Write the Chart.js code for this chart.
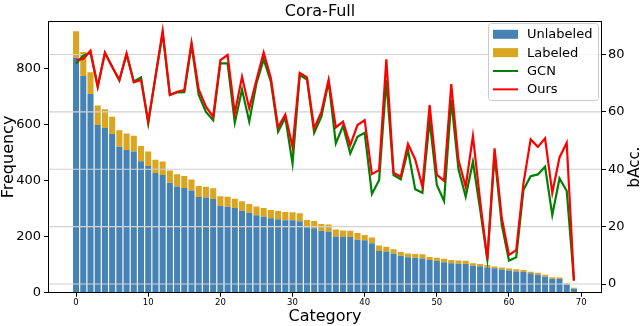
<!DOCTYPE html>
<html>
<head>
<meta charset="utf-8">
<script src="https://cdn.jsdelivr.net/npm/chart.js@4"></script>
<style>
  body { margin: 0; background: #fff; }
  #wrap { width: 640px; height: 326px; }
</style>
</head>
<body>
<div id="wrap"><canvas id="coraChart" width="640" height="326"></canvas></div>
<script>
// category index on x axis
const categories = [0, 1, 2, 3, 4, 5, 6, 7, 8, 9, 10, 11, 12, 13, 14, 15, 16, 17, 18, 19,
  20, 21, 22, 23, 24, 25, 26, 27, 28, 29, 30, 31, 32, 33, 34, 35, 36, 37, 38, 39,
  40, 41, 42, 43, 44, 45, 46, 47, 48, 49, 50, 51, 52, 53, 54, 55, 56, 57, 58, 59,
  60, 61, 62, 63, 64, 65, 66, 67, 68, 69];

// node counts per class (left axis)
const unlabeled = [838, 773, 708, 598, 587, 566, 520, 509, 503, 469,
  452, 427, 420, 392, 379, 373, 364, 341, 339, 334,
  309, 306, 302, 292, 285, 276, 271, 265, 262, 258,
  258, 255, 233, 230, 220, 218, 200, 199, 199, 189,
  187, 176, 149, 147, 140, 132, 126, 125, 122, 117,
  113, 109, 105, 103, 102, 96, 94, 90, 87, 83,
  79, 76, 74, 69, 64, 57, 50, 49, 29, 14];
const labeled = [94, 85, 78, 69, 67, 61, 59, 59, 57, 54,
  51, 47, 48, 44, 43, 43, 40, 39, 39, 38,
  35, 36, 33, 34, 31, 31, 31, 30, 29, 30,
  29, 28, 26, 26, 25, 25, 25, 23, 22, 24,
  19, 21, 19, 17, 15, 13, 14, 13, 15, 10,
  12, 12, 12, 12, 12, 9, 8, 9, 6, 7,
  7, 8, 7, 6, 7, 7, 5, 5, 4, 4];

// balanced accuracy per class (right axis)
const gcnAcc = [76.9, 79.6, 80.6, 68.8, 80.6, 75.7, 70.9, 80.0, 70.6, 72.0,
  56.0, 72.2, 87.3, 65.9, 66.8, 66.9, 83.3, 65.9, 60.0, 57.1,
  76.9, 76.9, 56.2, 67.8, 56.6, 69.9, 78.3, 70.5, 53.1, 58.0,
  42.0, 72.8, 71.3, 52.7, 58.3, 70.5, 49.0, 55.1, 45.5, 51.3,
  52.7, 31.4, 36.2, 71.1, 38.0, 36.5, 46.7, 33.0, 31.8, 57.1,
  34.5, 28.9, 64.1, 40.0, 30.4, 42.6, 26.0, 8.6, 44.9, 20.6,
  8.1, 9.3, 32.8, 37.6, 38.2, 40.9, 24.0, 36.8, 32.5, 1.2];
const oursAcc = [78.0, 78.4, 81.3, 68.8, 80.6, 75.7, 71.1, 80.4, 70.3, 71.1,
  56.6, 72.2, 88.3, 65.9, 67.0, 67.6, 84.1, 67.8, 61.8, 58.3,
  78.0, 79.8, 59.5, 72.2, 61.2, 71.1, 80.7, 71.7, 54.6, 59.1,
  47.8, 73.6, 72.0, 54.2, 60.0, 71.1, 54.6, 56.6, 48.4, 55.4,
  57.1, 38.3, 39.7, 78.3, 38.8, 37.4, 48.8, 43.4, 33.9, 62.4,
  38.0, 36.0, 69.7, 43.2, 33.9, 51.6, 29.0, 8.6, 47.3, 23.0,
  10.1, 11.8, 35.0, 50.4, 47.8, 50.8, 31.8, 44.1, 49.2, 1.2];

// tick labels
const xTicks = [0, 10, 20, 30, 40, 50, 60, 70];
const freqTicks = [0, 200, 400, 600, 800];
const accTicks = [0, 20, 40, 60, 80];

const FONT = "'DejaVu Sans', 'Liberation Sans', sans-serif";
const toPoints = vals => vals.map((v, i) => ({ x: categories[i], y: v }));
const fixTicks = list => scale => { scale.ticks = list.map(v => ({ value: v })); };

// grid of the right axis sits above the bars but below the lines,
// plus the frame, a boxed legend and the right axis label
const overlay = {
    id: 'overlay',
    beforeDatasetDraw(chart, args) {
        if (args.index !== 2) return;
        const { ctx, chartArea: a, scales } = chart;
        ctx.save();
        ctx.strokeStyle = '#d2d2d2';
        ctx.lineWidth = 1.2;
        accTicks.forEach(v => {
            const y = scales.yR.getPixelForValue(v);
            ctx.beginPath();
            ctx.moveTo(a.left, y);
            ctx.lineTo(a.right, y);
            ctx.stroke();
        });
        ctx.restore();
    },
    afterDatasetsDraw(chart) {
        const { ctx, chartArea: a } = chart;
        ctx.save();
        ctx.strokeStyle = '#000';
        ctx.lineWidth = 1;
        ctx.strokeRect(Math.round(a.left) + 0.5, Math.round(a.top) + 0.5,
            Math.round(a.right - a.left) - 1, Math.round(a.bottom - a.top) - 1);
        ctx.restore();
    },
    afterDraw(chart) {
        const { ctx } = chart;
        ctx.save();
        // legend box
        const bx = 488, by = 23, bw = 110, bh = 77, r = 3;
        ctx.beginPath();
        ctx.roundRect(bx + 0.5, by + 0.5, bw, bh, r);
        ctx.fillStyle = 'rgba(255,255,255,0.8)';
        ctx.fill();
        ctx.strokeStyle = '#cccccc';
        ctx.lineWidth = 1;
        ctx.stroke();
        ctx.font = '13px ' + FONT;
        ctx.textBaseline = 'middle';
        ctx.textAlign = 'left';
        [0, 1, 2, 3].forEach((di, k) => {
            const ds = chart.data.datasets[di];
            const cy = 34.3 + k * 18.35;
            if (ds.type === 'line') {
                ctx.strokeStyle = ds.borderColor;
                ctx.lineWidth = 2;
                ctx.beginPath();
                ctx.moveTo(493, cy);
                ctx.lineTo(518, cy);
                ctx.stroke();
            } else {
                ctx.fillStyle = ds.backgroundColor;
                ctx.fillRect(493, cy - 4.5, 25, 9);
            }
            ctx.fillStyle = '#000';
            ctx.fillText(ds.label, 527, cy + 0.5);
        });
        // right axis title, reads bottom to top
        ctx.translate(639, 167);
        ctx.rotate(-Math.PI / 2);
        ctx.font = '15px ' + FONT;
        ctx.textAlign = 'center';
        ctx.textBaseline = 'alphabetic';
        ctx.fillStyle = '#000';
        ctx.fillText('bAcc.', 0, 0);
        ctx.restore();
    }
};

const ctx = document.getElementById('coraChart').getContext('2d');
const coraChart = new Chart(ctx, {
    type: 'bar',
    data: {
        datasets: [{
            label: 'Unlabeled',
            data: toPoints(unlabeled),
            backgroundColor: '#4682b4',
            yAxisID: 'y',
            barPercentage: 0.84,
            categoryPercentage: 1,
            order: 3
        }, {
            label: 'Labeled',
            data: toPoints(labeled),
            backgroundColor: '#daa520',
            yAxisID: 'y',
            barPercentage: 0.84,
            categoryPercentage: 1,
            order: 4
        }, {
            type: 'line',
            label: 'GCN',
            data: toPoints(gcnAcc),
            borderColor: '#008000',
            borderWidth: 2.2,
            pointRadius: 0,
            tension: 0,
            yAxisID: 'yR',
            order: 2
        }, {
            type: 'line',
            label: 'Ours',
            data: toPoints(oursAcc),
            borderColor: '#ff0000',
            borderWidth: 2.2,
            pointRadius: 0,
            tension: 0,
            yAxisID: 'yR',
            order: 1
        }]
    },
    options: {
        responsive: false,
        devicePixelRatio: 1,
        animation: false,
        layout: { padding: 0 },
        plugins: {
            legend: { display: false },
            tooltip: { enabled: false },
            title: {
                display: true,
                text: 'Cora-Full',
                color: '#000',
                font: { family: FONT, size: 16, weight: 'normal', lineHeight: 1.2 },
                padding: { top: 2, bottom: 0 }
            }
        },
        scales: {
            x: {
                type: 'linear',
                stacked: true,
                offset: false,
                min: -3.89,
                max: 72.89,
                afterBuildTicks: fixTicks(xTicks),
                afterFit: s => { s.height = 33.3; },
                grid: { display: true, drawOnChartArea: false, offset: false, tickLength: 4, color: '#000' },
                border: { display: false },
                ticks: { color: '#000', padding: 1, maxRotation: 0, font: { family: FONT, size: 8.5 } },
                title: {
                    display: true,
                    text: 'Category',
                    color: '#000',
                    font: { family: FONT, size: 16, lineHeight: 1.2 },
                    padding: 0
                }
            },
            y: {
                position: 'left',
                stacked: true,
                min: 0,
                max: 968,
                afterBuildTicks: fixTicks(freqTicks),
                afterFit: s => { s.width = 48; },
                grid: { display: true, drawOnChartArea: false, tickLength: 4, color: '#000' },
                border: { display: false },
                ticks: { color: '#000', padding: 3, font: { family: FONT, size: 13 } },
                title: {
                    display: true,
                    text: 'Frequency',
                    color: '#000',
                    font: { family: FONT, size: 16, lineHeight: 1.05 },
                    padding: 0
                }
            },
            yR: {
                position: 'right',
                stacked: false,
                min: -3.03,
                max: 91.6,
                afterBuildTicks: fixTicks(accTicks),
                afterFit: s => { s.width = 38; },
                grid: { display: true, drawOnChartArea: false, tickLength: 4, color: '#000' },
                border: { display: false },
                ticks: { color: '#000', padding: 2, font: { family: FONT, size: 13 } }
            }
        }
    },
    plugins: [overlay]
});
</script>
</body>
</html>
